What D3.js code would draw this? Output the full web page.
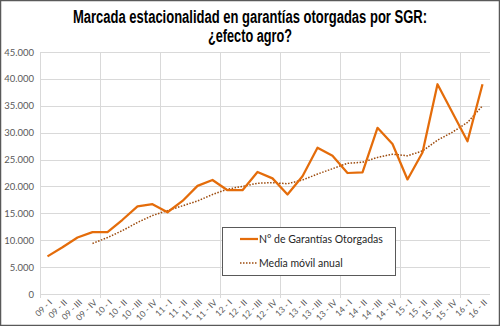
<!DOCTYPE html>
<html>
<head>
<meta charset="utf-8">
<script src="https://cdn.jsdelivr.net/npm/d3@7"></script>
<style>
  body { margin: 0; background: #fff; }
  svg { display: block; }
</style>
</head>
<body>
<script>
// quarters 09-I .. 16-II
var quarters = ["09 - I", "09 - II", "09 - III", "09 - IV",
  "10 - I", "10 - II", "10 - III", "10 - IV",
  "11 - I", "11 - II", "11 - III", "11 - IV",
  "12 - I", "12 - II", "12 - III", "12 - IV",
  "13 - I", "13 - II", "13 - III", "13 - IV",
  "14 - I", "14 - II", "14 - III", "14 - IV",
  "15 - I", "15 - II", "15 - III", "15 - IV",
  "16 - I", "16 - II"];

// N° de garantias otorgadas
var garantias = [7000, 8700, 10500, 11500, 11500, 13800, 16300, 16700,
  15200, 17300, 20100, 21200, 19300, 19300, 22700, 21500,
  18500, 21900, 27200, 25700, 22500, 22600, 30900, 27900,
  21300, 26300, 39000, 33700, 28400, 39000];

// media movil anual, starts at 09-IV
var mediaMovil = [null, null, null, 9400, 10500, 11800, 13300, 14600,
  15500, 16400, 17300, 18500, 19500, 20000, 20600, 20700,
  20500, 21200, 22300, 23300, 24300, 24500, 25400, 26000,
  25700, 26600, 28600, 30100, 31900, 35000];

var yTicks = [0, 5000, 10000, 15000, 20000, 25000, 30000, 35000, 40000, 45000];

var width = 500, height = 326;
var margin = {top: 52, right: 10, bottom: 32, left: 40};

var svg = d3.select("body").append("svg")
  .attr("width", width)
  .attr("height", height);

// outer frame
svg.append("rect")
  .attr("x", 0.5).attr("y", 0.5)
  .attr("width", width - 1).attr("height", height - 1)
  .attr("fill", "#fff")
  .attr("stroke", "#595959")
  .attr("stroke-width", 1.5);

var x = d3.scaleBand()
  .domain(quarters)
  .range([margin.left, width - margin.right]);

var y = d3.scaleLinear()
  .domain([0, 45000])
  .range([height - margin.bottom, margin.top]);

var fmt = function(v) { return d3.format(",")(v).replace(/,/g, "."); };

// title (condensed look by squeezing the glyphs)
var titleLines = [
  {text: "Marcada estacionalidad en garantías otorgadas por SGR:", y: 23, w: 354},
  {text: "¿efecto agro?", y: 42, w: 84}
];
svg.append("g")
  .selectAll("text")
  .data(titleLines)
  .enter().append("text")
  .attr("x", function(d) { return width / 2 - d.w / 2; })
  .attr("y", function(d) { return d.y; })
  .attr("textLength", function(d) { return d.w; })
  .attr("lengthAdjust", "spacingAndGlyphs")
  .style("font-family", "'Liberation Sans', Arial, sans-serif")
  .style("font-weight", "bold")
  .style("font-size", "18px")
  .attr("fill", "#000")
  .text(function(d) { return d.text; });

// horizontal gridlines
svg.append("g")
  .selectAll("line")
  .data(yTicks)
  .enter().append("line")
  .attr("x1", margin.left)
  .attr("x2", width - margin.right)
  .attr("y1", function(d) { return Math.round(y(d)) + 0.5; })
  .attr("y2", function(d) { return Math.round(y(d)) + 0.5; })
  .attr("stroke", "#d9d9d9")
  .attr("stroke-width", 1);

// vertical gridlines every 4 quarters
var vLines = quarters.filter(function(d, i) { return i % 4 === 0; });
svg.append("g")
  .selectAll("line")
  .data(vLines)
  .enter().append("line")
  .attr("x1", function(d) { return Math.round(x(d)) + 0.5; })
  .attr("x2", function(d) { return Math.round(x(d)) + 0.5; })
  .attr("y1", margin.top)
  .attr("y2", height - margin.bottom + 4)
  .attr("stroke", "#d9d9d9")
  .attr("stroke-width", 1);

// y axis labels
var yAxis = svg.append("g")
  .attr("transform", "translate(" + (margin.left - 6) + ",0)")
  .call(d3.axisLeft(y).tickValues(yTicks).tickSize(0).tickPadding(0).tickFormat(fmt));
yAxis.select(".domain").remove();
yAxis.selectAll("text")
  .style("font-family", "Lato, 'Open Sans', sans-serif")
  .style("font-size", "9.5px")
  .attr("fill", "#595959");

// x axis labels, rotated
var xAxis = svg.append("g")
  .attr("transform", "translate(0," + (height - margin.bottom) + ")")
  .call(d3.axisBottom(x).tickSize(0).tickPadding(0));
xAxis.select(".domain").remove();
xAxis.selectAll("text")
  .style("font-family", "Lato, 'Open Sans', sans-serif")
  .style("font-size", "8.5px")
  .attr("fill", "#595959")
  .attr("text-anchor", "end")
  .attr("dy", "0.35em")
  .attr("transform", "translate(3,7) rotate(-45)");

// moving average
var maLine = d3.line()
  .defined(function(d) { return d != null; })
  .x(function(d, i) { return x(quarters[i]) + x.bandwidth() / 2; })
  .y(function(d) { return y(d); });

svg.append("path")
  .datum(mediaMovil)
  .attr("d", maLine)
  .attr("fill", "none")
  .attr("stroke", "#9c4a0c")
  .attr("stroke-width", 1.5)
  .attr("stroke-dasharray", "1.5,1.5");

// garantias
var gLine = d3.line()
  .x(function(d, i) { return x(quarters[i]) + x.bandwidth() / 2; })
  .y(function(d) { return y(d); });

svg.append("path")
  .datum(garantias)
  .attr("d", gLine)
  .attr("fill", "none")
  .attr("stroke", "#e46c0a")
  .attr("stroke-width", 2.25)
  .attr("stroke-linejoin", "round");

// legend
var legend = svg.append("g").attr("transform", "translate(222,227)");
legend.append("rect")
  .attr("x", 0.5).attr("y", 0.5)
  .attr("width", 173).attr("height", 48)
  .attr("fill", "#fff")
  .attr("stroke", "#595959")
  .attr("stroke-width", 1);
legend.append("line")
  .attr("x1", 18).attr("x2", 36).attr("y1", 12).attr("y2", 12)
  .attr("stroke", "#e46c0a").attr("stroke-width", 2.25);
legend.append("line")
  .attr("x1", 18).attr("x2", 36).attr("y1", 36).attr("y2", 36)
  .attr("stroke", "#9c4a0c").attr("stroke-width", 1.5)
  .attr("stroke-dasharray", "1.5,1.5");
legend.selectAll("text.lbl")
  .data(["N° de Garantías Otorgadas", "Media móvil anual"])
  .enter().append("text")
  .attr("class", "lbl")
  .attr("x", 37)
  .attr("y", function(d, i) { return 12 + i * 24; })
  .attr("dy", "0.35em")
  .style("font-family", "Lato, 'Open Sans', sans-serif")
  .style("font-size", "10.5px")
  .attr("fill", "#262626")
  .text(function(d) { return d; });
</script>
</body>
</html>
